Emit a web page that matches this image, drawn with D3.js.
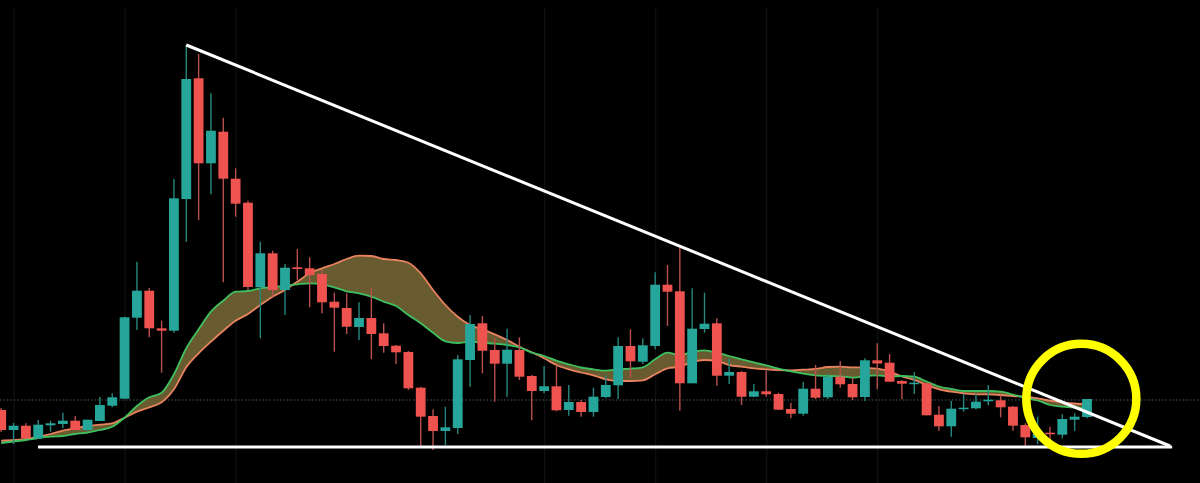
<!DOCTYPE html>
<html>
<head>
<meta charset="utf-8">
<title>Candles</title>
<script src="https://cdn.jsdelivr.net/npm/d3@7"></script>
<style>
    html, body { margin: 0; padding: 0; background: #000; overflow: hidden; }
    /* the source is a soft screenshot */
    svg { display: block; filter: blur(0.35px); }
</style>
</head>
<body>
<svg id="chart" width="1200" height="483"></svg>
<script>
// prices, one entry per candle
const opens = [40,20,24.3,11.7,24.7,26,29.3,20,29,44.3,51.3,132.3,159.3,121.7,119.3,251,371.7,286.7,318.3,271.3,247.3,162.7,196.7,160,182.7,181.7,176,148.3,142,123,132,116.7,104.3,98,62.3,34,19,22,90,126.7,100,86.3,100,74,59,63.7,40,48,38,53,64.7,104,88.3,104,165.3,158.7,66.7,121,126.7,74.3,78,53.3,58.7,56,41,36.3,61.3,52.7,73.3,66,53,89.7,87.3,69,66,66.7,35.3,23.7,41,41.7,48.7,49.7,43.3,25,12,17.3,15.3,30.3,33];
const closes = [20,24.3,11.7,25.3,26.7,29.3,20,30.3,45,52.7,132.7,159.3,121.7,119.3,251.7,371,286.7,319.3,271.3,246.3,163,196.7,160,182.3,181,175,147.7,142.3,123.3,132,116,104,97.7,61.7,33.3,19,22.7,90.7,126,99.3,86.3,100.3,73.3,59,63.7,39.7,48,38,53.3,65,104,88.7,104.7,165.3,158.3,66.7,121.3,126.3,74.3,78,53.3,58.7,55.7,40.3,36.3,61.3,52.3,73.3,65.7,52.7,89.7,86.5,68.3,66.3,67.3,34.7,23.7,41.3,42.3,48.3,50.3,42.7,24.3,12.7,16,15.7,31,33.3,51];
const highs = [42,27,26.7,30,29.3,37.3,34,30.3,53,56.7,133.3,188.3,162,129.3,271,405,396,356.7,332.3,281.7,249.3,208.3,199.3,186,201,192.7,180,157.3,156.7,147.7,162.7,126.7,105,99,63.3,40.7,43.3,94.7,134.7,134,112,121.3,112.7,75,84,84.3,65,50,62.3,75,112.7,120.7,111.7,177.7,185,205,161.7,157.3,131.7,91.7,79,66,79.3,57.3,47.3,68.3,85,77,89,72,91.7,106.7,96,70,78,67.3,44,49.3,56,56,65,55,44,26.7,33.3,23.3,35.7,36.7,51];
const lows = [18,6,11.7,11,18.3,21.7,20,19,29,42.7,51.3,120,112.7,77.3,117.3,208.3,230,255.7,167.7,233.3,160,111.7,153,135,170,142.7,136.7,98.3,116,110,91,97.3,86,60,1.7,0,5,16,63.3,76.7,48.3,53.3,70,29.7,56.7,38.7,34.3,33.3,33.3,52,51,72.3,86,100.7,124,39.3,66.7,117.3,64.3,66,45,53,53.3,40,31.7,34.3,51,51,62.3,50,49,60.7,68.3,50.7,56,34.7,19,13.3,38.3,40.7,44.7,32.7,19.3,2.7,6,10,11.7,19,31.7];

// the two moving averages and the cloud between them
const fastAverage = [7,8.5,10,12,13.3,14,16,17.3,20,23.3,32.3,44,52.7,57.3,75.7,101.7,120.7,138.3,149.3,158.3,159,161.7,162.7,164.3,165.7,166.7,165.7,162.7,158.7,156.7,153.3,148.3,144,135,126.7,117.3,108.7,107,108.3,107.3,106.3,105,102.7,97.3,94,89.3,85.7,82.5,80.7,79.3,80.7,81.3,82.7,90.7,97.3,95,98,99.7,97.3,94,90.7,87.7,84.7,81.3,78.7,76.3,74.7,74,73.7,72.3,74,74.7,73.5,74,73.3,68.5,63.5,61,59,59,59,58.3,55.5,52,49.5,45,43.3,42.3,41.7];
const slowAverage = [9.3,10,11,13.3,16,19.3,21.7,24,25.3,26.7,32.3,38.3,42.7,47.7,60.7,82.7,96.7,108.3,119.3,129.3,136,145,153.3,160,168.3,176.7,181.7,186,191,194.3,194,191,190,187.3,176.7,160,145,133.3,125,120.7,115.7,110,103.3,97.7,91.7,85,80.7,77.5,74.7,70.7,69,69,69.7,75.7,81.7,83.3,88,90,89,85,83.3,81.7,80.7,80,79.7,80.3,81,83,83.3,82.7,82.3,81.3,78.5,73.5,70,65,60.7,58.3,56.7,55.7,55.7,55,54,53.3,51.7,49.3,47.7,46.5,46];

const gridCandles = [1, 10, 19, 44, 53, 62, 71];
const lastPrice = 50;

// hand drawn annotations: [candle, price]
const fallingLine = [[15, 405], [94.73, 4]];
const supportLine = [[2.98, 3], [94.9, 3]];
const circled = [87.54, 51.2];

const width = 1200;
const height = 483;
const upColor = '#26a69a';
const downColor = '#ef5350';

let x = d3.scaleLinear().domain([0, 88]).range([1.2, 1087]);
let y = d3.scaleLinear().domain([0, 450]).range([450, 0]);

let svg = d3.select('#chart');

svg.append('rect')
    .attr('width', width)
    .attr('height', height)
    .attr('fill', '#000');

// vertical grid
let grid = svg.append('g')
    .attr('transform', `translate(0,${height})`)
    .call(d3.axisBottom(x).tickValues(gridCandles).tickSize(-475).tickFormat(''));
grid.select('.domain').remove();
grid.selectAll('line').attr('stroke', '#0e1014').attr('stroke-width', 1.3);

// dotted last price line
svg.append('line')
    .attr('x1', 0)
    .attr('x2', width)
    .attr('y1', y(lastPrice))
    .attr('y2', y(lastPrice))
    .attr('stroke', '#4d5a5a')
    .attr('stroke-width', 1)
    .attr('stroke-dasharray', '1.5 2');

// cloud between the averages
let cloud = d3.area()
    .x((d, i) => x(i))
    .y0((d) => y(d))
    .y1((d, i) => y(slowAverage[i]))
    .curve(d3.curveMonotoneX);

svg.append('path')
    .attr('d', cloud(fastAverage))
    .attr('fill', '#675b2f');

let averageLine = d3.line()
    .x((d, i) => x(i))
    .y((d) => y(d))
    .curve(d3.curveMonotoneX);

svg.append('path')
    .attr('d', averageLine(slowAverage))
    .attr('fill', 'none')
    .attr('stroke', '#e8835f')
    .attr('stroke-width', 1.8);

svg.append('path')
    .attr('d', averageLine(fastAverage))
    .attr('fill', 'none')
    .attr('stroke', '#3fc060')
    .attr('stroke-width', 1.8);

// candles
let candles = svg.append('g')
    .selectAll('g')
    .data(opens)
    .join('g');

candles.append('line')
    .attr('x1', (d, i) => x(i))
    .attr('x2', (d, i) => x(i))
    .attr('y1', (d, i) => y(highs[i]))
    .attr('y2', (d, i) => y(lows[i]))
    .attr('stroke', (d, i) => closes[i] >= d ? '#27877f' : '#b8504d')
    .attr('stroke-width', 1.4);

candles.append('rect')
    .attr('x', (d, i) => x(i) - 4.9)
    .attr('width', 9.8)
    .attr('y', (d, i) => y(Math.max(d, closes[i])))
    .attr('height', (d, i) => Math.max(1.5, Math.abs(y(d) - y(closes[i]))))
    .attr('fill', (d, i) => closes[i] >= d ? upColor : downColor);

// annotations on top
let annotation = d3.line()
    .x((d) => x(d[0]))
    .y((d) => y(d[1]));

[fallingLine, supportLine].forEach((points) => {
    svg.append('path')
        .attr('d', annotation(points))
        .attr('fill', 'none')
        .attr('stroke', '#fff')
        .attr('stroke-width', 3);
});

svg.append('circle')
    .attr('cx', x(circled[0]))
    .attr('cy', y(circled[1]))
    .attr('r', 55)
    .attr('fill', 'none')
    .attr('stroke', '#ffff00')
    .attr('stroke-width', 8.5);
</script>
</body>
</html>
